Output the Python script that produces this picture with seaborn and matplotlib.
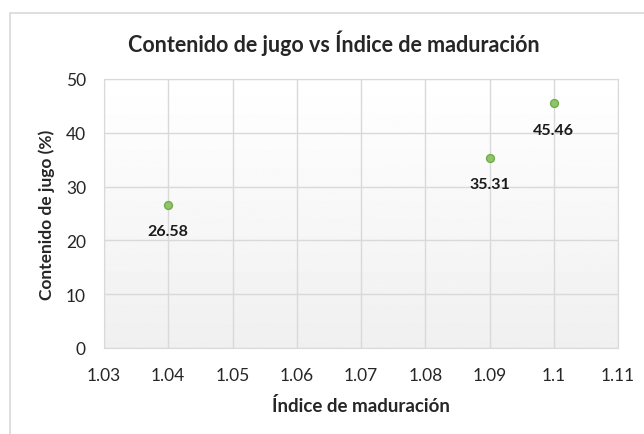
import numpy as np
import pandas as pd
import matplotlib
matplotlib.use("Agg")
import matplotlib.pyplot as plt
import seaborn as sns

indice = [1.04, 1.09, 1.10]
jugo = [26.58, 35.31, 45.46]
etiquetas = ["26.58", "35.31", "45.46"]
x_ticks = [1.03, 1.04, 1.05, 1.06, 1.07, 1.08, 1.09, 1.10, 1.11]
x_tick_labels = ["1.03", "1.04", "1.05", "1.06", "1.07", "1.08", "1.09", "1.1", "1.11"]
y_ticks = [0, 10, 20, 30, 40, 50]

df = pd.DataFrame({"Indice": indice, "Jugo": jugo})

sns.set_style("white")
plt.rcParams["font.family"] = ["Lato", "DejaVu Sans"]

fig = plt.figure(figsize=(6.44, 4.35), dpi=100)
ax = fig.add_axes([104 / 644, 1 - 349 / 435, (618 - 104) / 644, (349 - 80) / 435])

# outer chart border (only left and top visible)
fig.patches.append(plt.Rectangle((10 / 644, -0.05), 1.2, 1 - 14 / 435 + 0.05,
                                 transform=fig.transFigure, fill=False,
                                 edgecolor="#d9d9d9", linewidth=1.2))

# gradient plot area: white at top, light gray at bottom
grad = np.linspace(1.0, 0.94, 256).reshape(-1, 1)
ax.imshow(grad, extent=[1.03, 1.11, 0, 50], origin="upper", aspect="auto",
          cmap="gray", vmin=0, vmax=1, zorder=0)

sns.scatterplot(data=df, x="Indice", y="Jugo", ax=ax, s=32, color="#8fc46a",
                edgecolor="#70ad47", linewidth=1, zorder=3)

for xv, yv, lab in zip(indice, jugo, etiquetas):
    ax.annotate(lab, (xv, yv), xytext=(0, -14), textcoords="offset points",
                ha="center", va="top", fontsize=11.5, fontweight="bold", color="#1a1a1a")

ax.set_xlim(1.03, 1.11)
ax.set_ylim(0, 50)
ax.set_xticks(x_ticks)
ax.set_xticklabels(x_tick_labels)
ax.set_yticks(y_ticks)
ax.grid(True, color="#d9d9d9", linewidth=1)
ax.set_axisbelow(True)
for s in ax.spines.values():
    s.set_color("#d9d9d9")
ax.tick_params(axis="x", labelsize=12.5, length=0, pad=14)
ax.tick_params(axis="y", labelsize=12.5, length=0, pad=13)
for t in ax.get_xticklabels() + ax.get_yticklabels():
    t.set_color("#262626")

ax.set_xlabel("Índice de maduración", fontsize=13.5, fontweight="bold", color="#262626", labelpad=9)
ax.set_ylabel("Contenido de jugo (%)", fontsize=12.5, fontweight="bold", color="#262626", labelpad=8)
fig.text(334 / 644, 1 - 43 / 435, "Contenido de jugo vs Índice de maduración",
         ha="center", va="center", fontsize=15.5, fontweight="bold", color="#262626")

fig.savefig("out.png", dpi=100)
